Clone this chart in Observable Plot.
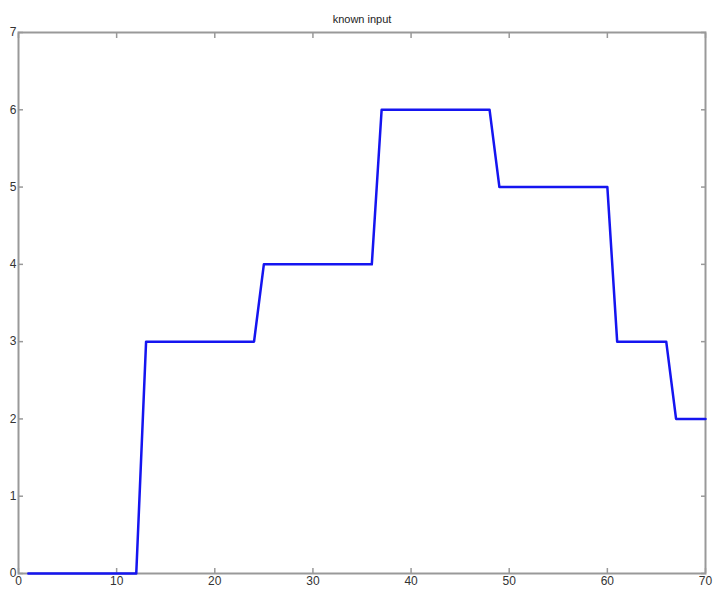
<!DOCTYPE html>
<html><head><meta charset="utf-8">
<script src="https://cdn.jsdelivr.net/npm/d3@7"></script>
<script src="https://cdn.jsdelivr.net/npm/@observablehq/plot@0.6"></script>
<style>body{margin:0;background:#fff}</style>
</head><body><div id="chart"></div>
<script>
const tX = [1, 12, 13, 24, 25, 36, 37, 48, 49, 60, 61, 66, 67, 70];
const uY = [0, 0, 3, 3, 4, 4, 6, 6, 5, 5, 3, 3, 2, 2];
const xTicks = [0, 10, 20, 30, 40, 50, 60, 70];
const yTicks = [0, 1, 2, 3, 4, 5, 6, 7];
const title = "known input";
const data = tX.map((x, i) => ({x, y: uY[i]}));
const tickStyle = {stroke: "#999", strokeWidth: 1.5, label: null, tickFormat: "d"};
const chart = Plot.plot({
  width: 720, height: 600,
  marginLeft: 18, marginRight: 15, marginTop: 32, marginBottom: 27,
  style: {fontFamily: "Liberation Sans, Arial, sans-serif", fontSize: "12px", color: "#333", background: "#fff"},
  x: {domain: [0, 70], ticks: xTicks, label: null},
  y: {domain: [0, 7], ticks: yTicks, label: null},
  marks: [
    Plot.frame({stroke: "#999", strokeWidth: 2}),
    Plot.axisX(xTicks, {anchor: "bottom", tickSize: -5, tickPadding: 8, ...tickStyle, fill: "#333", fontSize: 12}),
    Plot.axisX(xTicks, {anchor: "top", tickSize: -5, text: null, ...tickStyle}),
    Plot.axisY(yTicks, {anchor: "left", tickSize: -5, tickPadding: 7, ...tickStyle, fill: "#333", fontSize: 12}),
    Plot.axisY(yTicks, {anchor: "right", tickSize: -5, text: null, ...tickStyle}),
    Plot.line(data, {x: "x", y: "y", stroke: "#1515f0", strokeWidth: 2.5}),
    Plot.text([title], {frameAnchor: "top", dy: -17, text: d => d, fontSize: 11, fill: "#222"})
  ]
});
document.getElementById("chart").append(chart);
</script>
</body></html>
